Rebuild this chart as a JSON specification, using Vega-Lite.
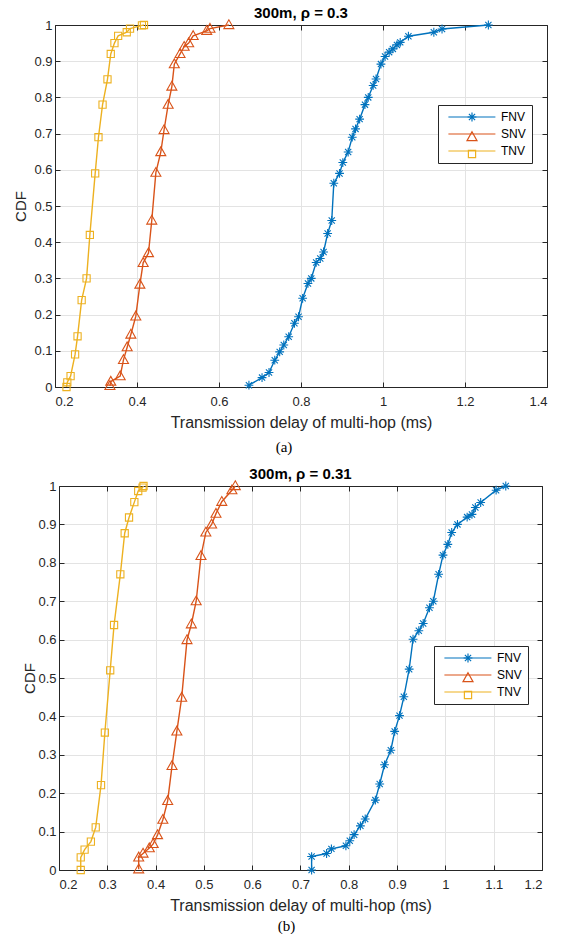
{
  "$schema": "https://vega.github.io/schema/vega-lite/v6.json",
  "padding": {"left": 13, "top": 5, "right": 0, "bottom": 0},
  "spacing": 11,
  "columns": 1,
  "center": true,
  "resolve": {"scale": {"color": "independent", "shape": "independent"}, "legend": {"color": "independent", "shape": "independent"}},
  "config": {
    "view": {"stroke": null},
    "font": "Liberation Sans",
    "axis": {"labelFont": "Liberation Sans", "titleFont": "Liberation Sans"},
    "legend": {"labelFont": "Liberation Sans"}
  },
  "datasets": {
    "a": [
      {"s": "FNV", "x": 0.673, "y": 0.005}, {"s": "FNV", "x": 0.705, "y": 0.026}, {"s": "FNV", "x": 0.722, "y": 0.04},
      {"s": "FNV", "x": 0.736, "y": 0.074}, {"s": "FNV", "x": 0.748, "y": 0.097}, {"s": "FNV", "x": 0.758, "y": 0.116},
      {"s": "FNV", "x": 0.77, "y": 0.139}, {"s": "FNV", "x": 0.784, "y": 0.176}, {"s": "FNV", "x": 0.794, "y": 0.194},
      {"s": "FNV", "x": 0.804, "y": 0.245}, {"s": "FNV", "x": 0.817, "y": 0.286}, {"s": "FNV", "x": 0.825, "y": 0.3},
      {"s": "FNV", "x": 0.837, "y": 0.344}, {"s": "FNV", "x": 0.847, "y": 0.355}, {"s": "FNV", "x": 0.855, "y": 0.373},
      {"s": "FNV", "x": 0.865, "y": 0.424}, {"s": "FNV", "x": 0.875, "y": 0.46}, {"s": "FNV", "x": 0.88, "y": 0.563},
      {"s": "FNV", "x": 0.894, "y": 0.59}, {"s": "FNV", "x": 0.902, "y": 0.62}, {"s": "FNV", "x": 0.915, "y": 0.649},
      {"s": "FNV", "x": 0.925, "y": 0.69}, {"s": "FNV", "x": 0.933, "y": 0.713}, {"s": "FNV", "x": 0.943, "y": 0.74},
      {"s": "FNV", "x": 0.956, "y": 0.78}, {"s": "FNV", "x": 0.964, "y": 0.8}, {"s": "FNV", "x": 0.976, "y": 0.833},
      {"s": "FNV", "x": 0.983, "y": 0.851}, {"s": "FNV", "x": 0.995, "y": 0.892}, {"s": "FNV", "x": 1.005, "y": 0.913},
      {"s": "FNV", "x": 1.015, "y": 0.925}, {"s": "FNV", "x": 1.024, "y": 0.934}, {"s": "FNV", "x": 1.034, "y": 0.945},
      {"s": "FNV", "x": 1.042, "y": 0.952}, {"s": "FNV", "x": 1.062, "y": 0.969}, {"s": "FNV", "x": 1.124, "y": 0.98},
      {"s": "FNV", "x": 1.144, "y": 0.989}, {"s": "FNV", "x": 1.257, "y": 1.0},
      {"s": "SNV", "x": 0.334, "y": 0.003}, {"s": "SNV", "x": 0.336, "y": 0.015}, {"s": "SNV", "x": 0.359, "y": 0.03},
      {"s": "SNV", "x": 0.367, "y": 0.075}, {"s": "SNV", "x": 0.376, "y": 0.11}, {"s": "SNV", "x": 0.385, "y": 0.145},
      {"s": "SNV", "x": 0.397, "y": 0.195}, {"s": "SNV", "x": 0.407, "y": 0.283}, {"s": "SNV", "x": 0.415, "y": 0.343},
      {"s": "SNV", "x": 0.428, "y": 0.37}, {"s": "SNV", "x": 0.436, "y": 0.46}, {"s": "SNV", "x": 0.446, "y": 0.592},
      {"s": "SNV", "x": 0.458, "y": 0.649}, {"s": "SNV", "x": 0.466, "y": 0.71}, {"s": "SNV", "x": 0.476, "y": 0.78},
      {"s": "SNV", "x": 0.485, "y": 0.83}, {"s": "SNV", "x": 0.491, "y": 0.892}, {"s": "SNV", "x": 0.505, "y": 0.92},
      {"s": "SNV", "x": 0.515, "y": 0.94}, {"s": "SNV", "x": 0.526, "y": 0.95}, {"s": "SNV", "x": 0.537, "y": 0.97},
      {"s": "SNV", "x": 0.57, "y": 0.984}, {"s": "SNV", "x": 0.578, "y": 0.99}, {"s": "SNV", "x": 0.624, "y": 1.0},
      {"s": "TNV", "x": 0.228, "y": 0.0}, {"s": "TNV", "x": 0.23, "y": 0.013}, {"s": "TNV", "x": 0.238, "y": 0.03},
      {"s": "TNV", "x": 0.249, "y": 0.09}, {"s": "TNV", "x": 0.255, "y": 0.14}, {"s": "TNV", "x": 0.265, "y": 0.24},
      {"s": "TNV", "x": 0.277, "y": 0.3}, {"s": "TNV", "x": 0.285, "y": 0.42}, {"s": "TNV", "x": 0.298, "y": 0.59},
      {"s": "TNV", "x": 0.306, "y": 0.69}, {"s": "TNV", "x": 0.316, "y": 0.78}, {"s": "TNV", "x": 0.328, "y": 0.85},
      {"s": "TNV", "x": 0.336, "y": 0.92}, {"s": "TNV", "x": 0.345, "y": 0.95}, {"s": "TNV", "x": 0.354, "y": 0.97},
      {"s": "TNV", "x": 0.375, "y": 0.98}, {"s": "TNV", "x": 0.383, "y": 0.99}, {"s": "TNV", "x": 0.412, "y": 0.999},
      {"s": "TNV", "x": 0.417, "y": 1.0}
    ],
    "b": [
      {"s": "FNV", "x": 0.723, "y": 0.0}, {"s": "FNV", "x": 0.723, "y": 0.035}, {"s": "FNV", "x": 0.754, "y": 0.043},
      {"s": "FNV", "x": 0.764, "y": 0.055}, {"s": "FNV", "x": 0.794, "y": 0.063}, {"s": "FNV", "x": 0.802, "y": 0.076},
      {"s": "FNV", "x": 0.811, "y": 0.092}, {"s": "FNV", "x": 0.824, "y": 0.115}, {"s": "FNV", "x": 0.834, "y": 0.133},
      {"s": "FNV", "x": 0.855, "y": 0.182}, {"s": "FNV", "x": 0.864, "y": 0.224}, {"s": "FNV", "x": 0.874, "y": 0.274},
      {"s": "FNV", "x": 0.887, "y": 0.312}, {"s": "FNV", "x": 0.895, "y": 0.361}, {"s": "FNV", "x": 0.905, "y": 0.402},
      {"s": "FNV", "x": 0.914, "y": 0.451}, {"s": "FNV", "x": 0.925, "y": 0.523}, {"s": "FNV", "x": 0.933, "y": 0.601},
      {"s": "FNV", "x": 0.945, "y": 0.623}, {"s": "FNV", "x": 0.954, "y": 0.642}, {"s": "FNV", "x": 0.967, "y": 0.683},
      {"s": "FNV", "x": 0.975, "y": 0.7}, {"s": "FNV", "x": 0.986, "y": 0.77}, {"s": "FNV", "x": 0.995, "y": 0.82},
      {"s": "FNV", "x": 1.005, "y": 0.848}, {"s": "FNV", "x": 1.013, "y": 0.879}, {"s": "FNV", "x": 1.025, "y": 0.9},
      {"s": "FNV", "x": 1.045, "y": 0.919}, {"s": "FNV", "x": 1.055, "y": 0.926}, {"s": "FNV", "x": 1.062, "y": 0.944},
      {"s": "FNV", "x": 1.073, "y": 0.957}, {"s": "FNV", "x": 1.105, "y": 0.989}, {"s": "FNV", "x": 1.125, "y": 1.0},
      {"s": "SNV", "x": 0.365, "y": 0.002}, {"s": "SNV", "x": 0.365, "y": 0.033}, {"s": "SNV", "x": 0.374, "y": 0.043},
      {"s": "SNV", "x": 0.387, "y": 0.057}, {"s": "SNV", "x": 0.395, "y": 0.068}, {"s": "SNV", "x": 0.404, "y": 0.091},
      {"s": "SNV", "x": 0.415, "y": 0.131}, {"s": "SNV", "x": 0.425, "y": 0.18}, {"s": "SNV", "x": 0.434, "y": 0.271},
      {"s": "SNV", "x": 0.444, "y": 0.361}, {"s": "SNV", "x": 0.454, "y": 0.449}, {"s": "SNV", "x": 0.465, "y": 0.599},
      {"s": "SNV", "x": 0.474, "y": 0.64}, {"s": "SNV", "x": 0.484, "y": 0.7}, {"s": "SNV", "x": 0.494, "y": 0.818},
      {"s": "SNV", "x": 0.504, "y": 0.879}, {"s": "SNV", "x": 0.516, "y": 0.9}, {"s": "SNV", "x": 0.525, "y": 0.928},
      {"s": "SNV", "x": 0.537, "y": 0.959}, {"s": "SNV", "x": 0.558, "y": 0.989}, {"s": "SNV", "x": 0.565, "y": 1.0},
      {"s": "TNV", "x": 0.245, "y": 0.0}, {"s": "TNV", "x": 0.245, "y": 0.033}, {"s": "TNV", "x": 0.253, "y": 0.053},
      {"s": "TNV", "x": 0.266, "y": 0.074}, {"s": "TNV", "x": 0.276, "y": 0.111}, {"s": "TNV", "x": 0.287, "y": 0.221},
      {"s": "TNV", "x": 0.295, "y": 0.358}, {"s": "TNV", "x": 0.306, "y": 0.52}, {"s": "TNV", "x": 0.314, "y": 0.638},
      {"s": "TNV", "x": 0.327, "y": 0.77}, {"s": "TNV", "x": 0.336, "y": 0.877}, {"s": "TNV", "x": 0.345, "y": 0.918},
      {"s": "TNV", "x": 0.356, "y": 0.958}, {"s": "TNV", "x": 0.364, "y": 0.987}, {"s": "TNV", "x": 0.373, "y": 0.996},
      {"s": "TNV", "x": 0.375, "y": 1.0}
    ]
  },
  "concat": [
    {
      "title": {"text": "(a)", "orient": "bottom", "anchor": "middle", "font": "Liberation Serif", "fontSize": 15, "fontWeight": "normal", "color": "#000000", "offset": 10},
      "resolve": {"scale": {"color": "independent", "shape": "independent"}, "legend": {"color": "independent", "shape": "independent"}},
      "vconcat": [
        {
          "title": {"text": "300m, ρ = 0.3", "frame": "group", "anchor": "middle", "fontSize": 15, "fontWeight": "bold", "color": "#000000", "offset": -3},
          "width": 492,
          "height": 362,
          "data": {"name": "a"},
          "layer": [
            {
              "mark": {"type": "line", "strokeWidth": 1.4},
              "encoding": {
                "x": {"field": "x", "type": "quantitative", "scale": {"domain": [0.2, 1.4], "nice": false, "zero": false},
                  "axis": {"orient": "bottom", "values": [0.2, 0.4, 0.6, 0.8, 1, 1.2, 1.4], "format": "~g", "grid": true, "gridColor": "#e3e3e3", "domainColor": "#262626", "tickColor": "#262626", "tickSize": -5, "labelPadding": 13, "labelFontSize": 13, "labelColor": "#262626", "title": "Transmission delay of multi-hop (ms)", "titleFontSize": 16, "titleFontWeight": "normal", "titleColor": "#262626", "titlePadding": 6}},
                "y": {"field": "y", "type": "quantitative", "scale": {"domain": [0, 1], "nice": false},
                  "axis": {"orient": "left", "values": [0, 0.1, 0.2, 0.3, 0.4, 0.5, 0.6, 0.7, 0.8, 0.9, 1], "format": "~g", "grid": true, "gridColor": "#e3e3e3", "domainColor": "#262626", "tickColor": "#262626", "tickSize": -5, "labelPadding": 8, "labelFontSize": 13, "labelColor": "#262626", "title": "CDF", "titleFontSize": 15, "titleFontWeight": "normal", "titleColor": "#262626", "titlePadding": 5}},
                "color": {"field": "s", "type": "nominal", "scale": {"domain": ["FNV", "SNV", "TNV"], "range": ["#0072BD", "#D95319", "#EDB120"]},
                  "legend": {"title": null, "orient": "none", "legendX": 383, "legendY": 80, "fillColor": "#ffffff", "strokeColor": "#262626", "padding": 6, "rowPadding": 5, "symbolSize": 64, "symbolType": "M-0.4,0L11.35,0", "symbolStrokeWidth": 1.2, "labelOffset": 45, "labelFontSize": 12, "labelColor": "#000000"}},
                "order": {"field": "y", "type": "quantitative"}
              }
            },
            {
              "mark": {"type": "point", "filled": false, "opacity": 1, "strokeWidth": 1.1, "size": 64},
              "encoding": {
                "x": {"field": "x", "type": "quantitative",
                  "axis": {"orient": "top", "values": [0.2, 0.4, 0.6, 0.8, 1, 1.2, 1.4], "labels": false, "grid": false, "domainColor": "#262626", "tickColor": "#262626", "tickSize": -5, "title": null}},
                "y": {"field": "y", "type": "quantitative",
                  "axis": {"orient": "right", "values": [0, 0.1, 0.2, 0.3, 0.4, 0.5, 0.6, 0.7, 0.8, 0.9, 1], "labels": false, "grid": false, "domainColor": "#262626", "tickColor": "#262626", "tickSize": -5, "title": null}},
                "color": {"field": "s", "type": "nominal",
                  "legend": {"title": null, "orient": "none", "legendX": 383, "legendY": 80, "padding": 6, "rowPadding": 5, "symbolSize": 64, "symbolStrokeWidth": 1.2, "symbolOffset": 22, "symbolFillColor": "transparent", "labelOffset": 45, "labelFontSize": 12, "labelColor": "transparent"}},
                "shape": {"field": "s", "type": "nominal", "scale": {"domain": ["FNV", "SNV", "TNV"], "range": ["M-1.1,0L1.1,0M0,-1.1L0,1.1M-0.775,-0.775L0.775,0.775M-0.775,0.775L0.775,-0.775", "M0,-1.3L1.25,0.9L-1.25,0.9Z", "M-0.9,-0.9L0.9,-0.9L0.9,0.9L-0.9,0.9Z"]}, "legend": null}
              }
            }
          ],
          "resolve": {"axis": {"x": "independent", "y": "independent"}, "legend": {"color": "independent", "shape": "independent"}}
        }
      ]
    },
    {
      "title": {"text": "(b)", "orient": "bottom", "anchor": "middle", "font": "Liberation Serif", "fontSize": 15, "fontWeight": "normal", "color": "#000000", "offset": 6},
      "resolve": {"scale": {"color": "independent", "shape": "independent"}, "legend": {"color": "independent", "shape": "independent"}},
      "vconcat": [
        {
          "title": {"text": "300m, ρ = 0.31", "frame": "group", "anchor": "middle", "fontSize": 15, "fontWeight": "bold", "color": "#000000", "offset": -3},
          "width": 483,
          "height": 384,
          "data": {"name": "b"},
          "layer": [
            {
              "mark": {"type": "line", "strokeWidth": 1.4},
              "encoding": {
                "x": {"field": "x", "type": "quantitative", "scale": {"domain": [0.2, 1.2], "nice": false, "zero": false},
                  "axis": {"orient": "bottom", "values": [0.2, 0.3, 0.4, 0.5, 0.6, 0.7, 0.8, 0.9, 1, 1.1, 1.2], "format": "~g", "grid": true, "gridColor": "#e3e3e3", "domainColor": "#262626", "tickColor": "#262626", "tickSize": -5, "labelPadding": 13, "labelFontSize": 13, "labelColor": "#262626", "title": "Transmission delay of multi-hop (ms)", "titleFontSize": 16, "titleFontWeight": "normal", "titleColor": "#262626", "titlePadding": 6}},
                "y": {"field": "y", "type": "quantitative", "scale": {"domain": [0, 1], "nice": false},
                  "axis": {"orient": "left", "values": [0, 0.1, 0.2, 0.3, 0.4, 0.5, 0.6, 0.7, 0.8, 0.9, 1], "format": "~g", "grid": true, "gridColor": "#e3e3e3", "domainColor": "#262626", "tickColor": "#262626", "tickSize": -5, "labelPadding": 8, "labelFontSize": 13, "labelColor": "#262626", "title": "CDF", "titleFontSize": 15, "titleFontWeight": "normal", "titleColor": "#262626", "titlePadding": 0}},
                "color": {"field": "s", "type": "nominal", "scale": {"domain": ["FNV", "SNV", "TNV"], "range": ["#0072BD", "#D95319", "#EDB120"]},
                  "legend": {"title": null, "orient": "none", "legendX": 375, "legendY": 160, "fillColor": "#ffffff", "strokeColor": "#262626", "padding": 6, "rowPadding": 5, "symbolSize": 64, "symbolType": "M-0.4,0L11.35,0", "symbolStrokeWidth": 1.2, "labelOffset": 45, "labelFontSize": 12, "labelColor": "#000000"}},
                "order": {"field": "y", "type": "quantitative"}
              }
            },
            {
              "mark": {"type": "point", "filled": false, "opacity": 1, "strokeWidth": 1.1, "size": 64},
              "encoding": {
                "x": {"field": "x", "type": "quantitative",
                  "axis": {"orient": "top", "values": [0.2, 0.3, 0.4, 0.5, 0.6, 0.7, 0.8, 0.9, 1, 1.1, 1.2], "labels": false, "grid": false, "domainColor": "#262626", "tickColor": "#262626", "tickSize": -5, "title": null}},
                "y": {"field": "y", "type": "quantitative",
                  "axis": {"orient": "right", "values": [0, 0.1, 0.2, 0.3, 0.4, 0.5, 0.6, 0.7, 0.8, 0.9, 1], "labels": false, "grid": false, "domainColor": "#262626", "tickColor": "#262626", "tickSize": -5, "title": null}},
                "color": {"field": "s", "type": "nominal",
                  "legend": {"title": null, "orient": "none", "legendX": 375, "legendY": 160, "padding": 6, "rowPadding": 5, "symbolSize": 64, "symbolStrokeWidth": 1.2, "symbolOffset": 22, "symbolFillColor": "transparent", "labelOffset": 45, "labelFontSize": 12, "labelColor": "transparent"}},
                "shape": {"field": "s", "type": "nominal", "scale": {"domain": ["FNV", "SNV", "TNV"], "range": ["M-1.1,0L1.1,0M0,-1.1L0,1.1M-0.775,-0.775L0.775,0.775M-0.775,0.775L0.775,-0.775", "M0,-1.3L1.25,0.9L-1.25,0.9Z", "M-0.9,-0.9L0.9,-0.9L0.9,0.9L-0.9,0.9Z"]}, "legend": null}
              }
            }
          ],
          "resolve": {"axis": {"x": "independent", "y": "independent"}, "legend": {"color": "independent", "shape": "independent"}}
        }
      ]
    }
  ]
}
